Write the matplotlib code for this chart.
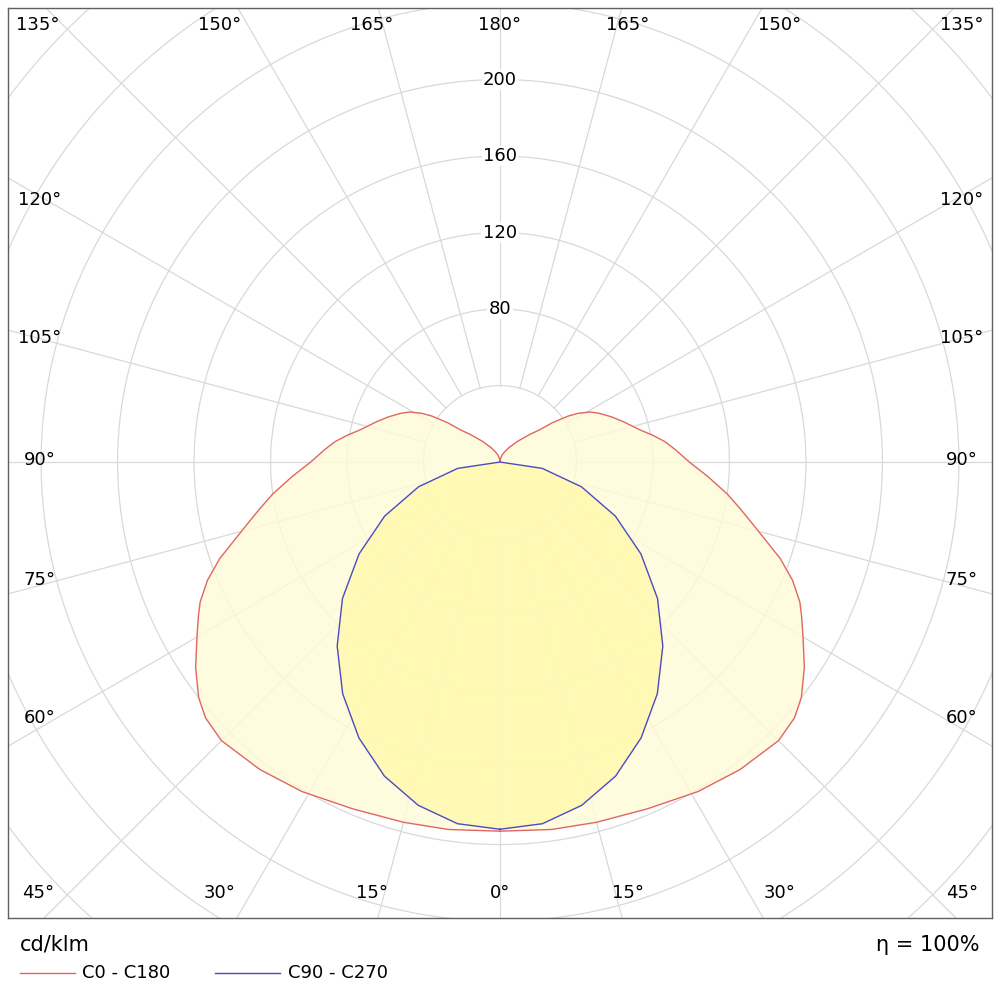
import matplotlib.pyplot as plt
import numpy as np

# C0 - C180 (gamma in degrees, cd/klm), mirrored on both sides
red_gamma = [0, 8, 15, 23, 31, 38, 45, 49, 52, 56, 60, 63, 65, 68, 71, 75, 79, 82, 86, 90,
             94, 97, 100, 103, 108, 112, 116, 119, 122, 124, 127, 129, 133, 140, 148, 155, 163, 170, 176, 180]
red_r = [193, 194, 195, 197, 201, 204, 206, 204, 200, 192, 183, 177, 173, 165, 155, 140, 128, 120, 109, 99,
         92, 87, 81, 75, 68, 63, 58, 54, 48, 43, 34, 27, 21, 14, 9, 6, 4, 2, 1, 0]
# C90 - C270
blue_gamma = [0, 6.7, 13.4, 20.2, 27.1, 34.2, 41.5, 49.1, 56.9, 64.9, 73.1, 81.5, 90]
blue_r = [192, 190.4, 184.5, 175, 162, 146.4, 128.5, 109, 88, 66.6, 44.5, 22.3, 0]

rings = [40, 80, 120, 160, 200, 240, 280, 320, 360]
ring_labels = [80, 120, 160, 200]


def to_xy(gamma, r, side=1):
    g = np.radians(np.asarray(gamma, float))
    r = np.asarray(r, float)
    return side * r * np.sin(g), -r * np.cos(g)


def closed(gamma, r):
    xr, yr = to_xy(gamma, r, 1)
    xl, yl = to_xy(gamma, r, -1)
    return np.concatenate([xr, xl[::-1]]), np.concatenate([yr, yl[::-1]])


fig = plt.figure(figsize=(10, 10), dpi=100)
ax = fig.add_axes([0.008, 0.082, 0.984, 0.91])
ax.set_xlim(-257.3, 257.3)
ax.set_ylim(-238.4, 237.4)
ax.set_aspect('auto')
ax.set_xticks([])
ax.set_yticks([])
for s in ax.spines.values():
    s.set_color('#606060')
    s.set_linewidth(1)

t = np.linspace(0, 2 * np.pi, 400)
for r in rings:
    ax.plot(r * np.cos(t), r * np.sin(t), color='#d9d9d9', lw=0.9, zorder=1)
for a in range(0, 360, 15):
    g = np.radians(a)
    ax.plot([40 * np.sin(g), 400 * np.sin(g)], [-40 * np.cos(g), -400 * np.cos(g)],
            color='#d9d9d9', lw=0.9, zorder=1)

xr, yr = closed(red_gamma, red_r)
ax.fill(xr, yr, color='#fffbd8', alpha=0.8, zorder=2)
ax.plot(xr, yr, color='#e06666', lw=1, zorder=4)
xb, yb = closed(blue_gamma, blue_r)
ax.fill(xb, yb, color='#fff9a8', alpha=0.75, zorder=3)
ax.plot(xb, yb, color='#4b4bc8', lw=1, zorder=5)

for v in ring_labels:
    ax.text(0, v, str(v), ha='center', va='center', fontsize=13, zorder=6,
            bbox=dict(facecolor='white', edgecolor='none', pad=1))

# angle labels (pixel positions)
def ftxt(px, py, s, **kw):
    fig.text(px / 1000, 1 - py / 1000, s, ha='center', va='center', fontsize=13, **kw)

for px, s in [(500, '0°'), (628, '15°'), (780, '30°'), (962, '45°'),
              (372, '15°'), (220, '30°'), (38, '45°')]:
    ftxt(px, 893, s)
for px, s in [(500, '180°'), (628, '165°'), (780, '150°'), (962, '135°'),
              (372, '165°'), (220, '150°'), (38, '135°')]:
    ftxt(px, 25, s)
for py, s in [(200, '120°'), (338, '105°'), (460, '90°'), (580, '75°'), (718, '60°')]:
    ftxt(40, py, s)
    ftxt(962, py, s)

fig.text(0.02, 0.055, 'cd/klm', fontsize=15, va='center')
fig.text(0.98, 0.055, 'η = 100%', fontsize=15, va='center', ha='right')
fig.add_artist(plt.Line2D([0.02, 0.075], [0.027, 0.027], color='#e06666', lw=1))
fig.text(0.082, 0.027, 'C0 - C180', fontsize=13, va='center')
fig.add_artist(plt.Line2D([0.215, 0.28], [0.027, 0.027], color='#4b4bc8', lw=1))
fig.text(0.288, 0.027, 'C90 - C270', fontsize=13, va='center')

fig.savefig('out.png', dpi=100, facecolor='white')
